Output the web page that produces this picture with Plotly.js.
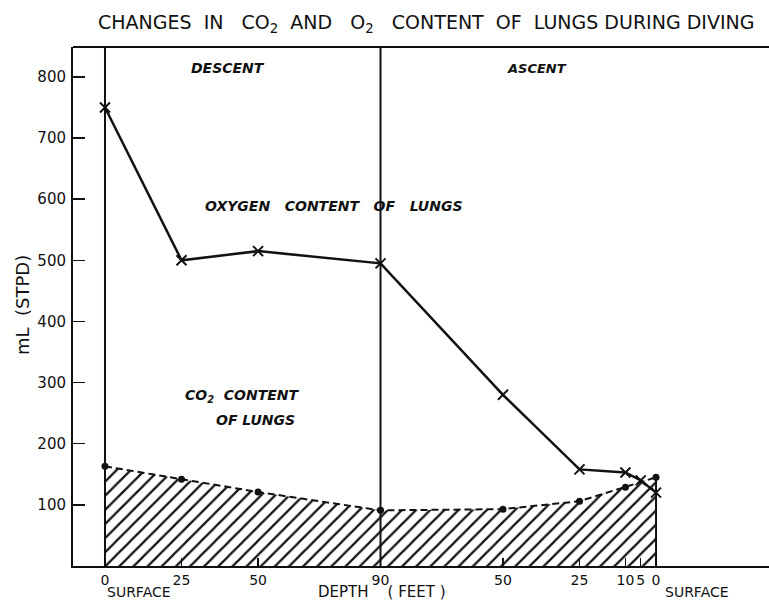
<!DOCTYPE html>
<html>
<head>
<meta charset="utf-8">
<script src="https://cdn.plot.ly/plotly-3.0.1.min.js"></script>
<style>html,body{margin:0;padding:0;background:#fff;}#chart{width:769px;height:600px;}</style>
</head>
<body>
<div id="chart"></div>
<script>
// cumulative depth travelled (ft): descent 0->90, ascent 90->0
const travel = [0, 25, 50, 90, 130, 155, 170, 175, 180];
const depthLabels = ['0', '25', '50', '90', '50', '25', '10', '5', '0'];
const oxygen = [750, 500, 515, 495, 280, 158, 153, 140, 120];
const co2 = [163, 142, 121, 91, 93, 106, 129, 137, 145];
const co2Travel = [0, 25, 50, 90, 130, 155, 170, 175, 180];
const co2Shown = [true, true, true, true, true, true, true, false, true];
const yTicks = [100, 200, 300, 400, 500, 600, 700, 800];

const F = 'DejaVu Sans, Liberation Sans, Arial, sans-serif';
const W = 769, H = 600, L = 73, T = 47, B = 34, R = 0;
const pw = W - L - R, ph = H - T - B;
const px = x => (x - L) / pw;
const py = y => (H - B - y) / ph;

function note(text, x, y, size, extra) {
  return Object.assign({
    text: text, x: px(x), y: py(y), xref: 'paper', yref: 'paper',
    xanchor: 'center', yanchor: 'middle', showarrow: false,
    font: {size: size, family: F, color: '#111'}
  }, extra || {});
}

const traces = [
  {
    x: co2Travel, y: co2, type: 'scatter', mode: 'lines',
    line: {color: '#111', width: 2, dash: '7px,4px'},
    fill: 'tozeroy', fillcolor: 'rgba(0,0,0,0)',
    fillpattern: {shape: '/', fgcolor: '#111', bgcolor: 'rgba(255,255,255,0)', size: 10, solidity: 0.22},
    hoverinfo: 'skip', showlegend: false
  },
  {
    x: co2Travel.filter((_, i) => co2Shown[i]), y: co2.filter((_, i) => co2Shown[i]),
    type: 'scatter', mode: 'markers',
    marker: {color: '#111', size: 7, symbol: 'circle'}, showlegend: false
  },
  {
    x: travel, y: oxygen, type: 'scatter', mode: 'lines+markers',
    line: {color: '#111', width: 2.5},
    marker: {symbol: 'x-thin', size: 10, line: {color: '#111', width: 2}},
    showlegend: false
  }
];

const layout = {
  width: W, height: H,
  margin: {l: L, r: R, t: T, b: B, pad: 0},
  paper_bgcolor: '#fff', plot_bgcolor: '#fff',
  font: {family: F, color: '#111'},
  title: {
    text: 'CHANGES  IN   CO<sub>2</sub>  AND   O<sub>2</sub>   CONTENT  OF  LUNGS DURING DIVING',
    font: {size: 19, family: F, color: '#111'},
    x: px(98), xanchor: 'left', xref: 'paper', y: 1 - 22 / H, yanchor: 'middle'
  },
  xaxis: {
    range: [-10.45, 216.9], showgrid: false, zeroline: false,
    showline: true, linecolor: '#111', linewidth: 2,
    tickmode: 'array', tickvals: travel, ticktext: depthLabels, tickangle: 0,
    ticks: 'inside', ticklen: 8, tickwidth: 1.5, tickcolor: '#111',
    ticklabelstandoff: 0,
    tickfont: {size: 14, family: F, color: '#111'}
  },
  yaxis: {
    range: [0, (H - B - T) / 0.6114], showgrid: false, zeroline: false,
    showline: true, linecolor: '#111', linewidth: 2,
    tickmode: 'array', tickvals: yTicks,
    ticks: 'inside', ticklen: 12, tickwidth: 1.5, tickcolor: '#111',
    ticklabelstandoff: 2,
    tickfont: {size: 15, family: F, color: '#111'}
  },
  shapes: [
    {type: 'line', xref: 'paper', yref: 'paper', x0: 0, x1: 1, y0: 1, y1: 1, line: {color: '#111', width: 2}},
    {type: 'line', xref: 'x', yref: 'paper', x0: travel[0], x1: travel[0], y0: 0, y1: 1, line: {color: '#111', width: 2}},
    {type: 'line', xref: 'x', yref: 'paper', x0: travel[3], x1: travel[3], y0: 0, y1: 1, line: {color: '#111', width: 2}},
    {type: 'line', xref: 'x', yref: 'y', x0: co2Travel[co2Travel.length - 1], x1: co2Travel[co2Travel.length - 1], y0: 0, y1: co2[co2.length - 1], line: {color: '#111', width: 2}}
  ],
  annotations: [
    note('<b><i>DESCENT</i></b>', 228, 68, 14),
    note('<b><i>ASCENT</i></b>', 537, 68, 13),
    note('<b><i>OXYGEN   CONTENT   OF   LUNGS</i></b>', 334, 206, 14),
    note('<b><i>CO<sub>2</sub>  CONTENT</i></b>', 242, 396, 14),
    note('<b><i>OF LUNGS</i></b>', 255, 420, 14),
    note('SURFACE', 105, 592, 14, {xanchor: 'left'}),
    note('SURFACE', 663, 592, 14, {xanchor: 'left'}),
    note('DEPTH    ( FEET )', 382, 592, 15),
    note('mL  (STPD)', 22, 305, 18, {textangle: -90})
  ]
};

Plotly.newPlot('chart', traces, layout, {displayModeBar: false, staticPlot: true});
</script>
</body>
</html>
